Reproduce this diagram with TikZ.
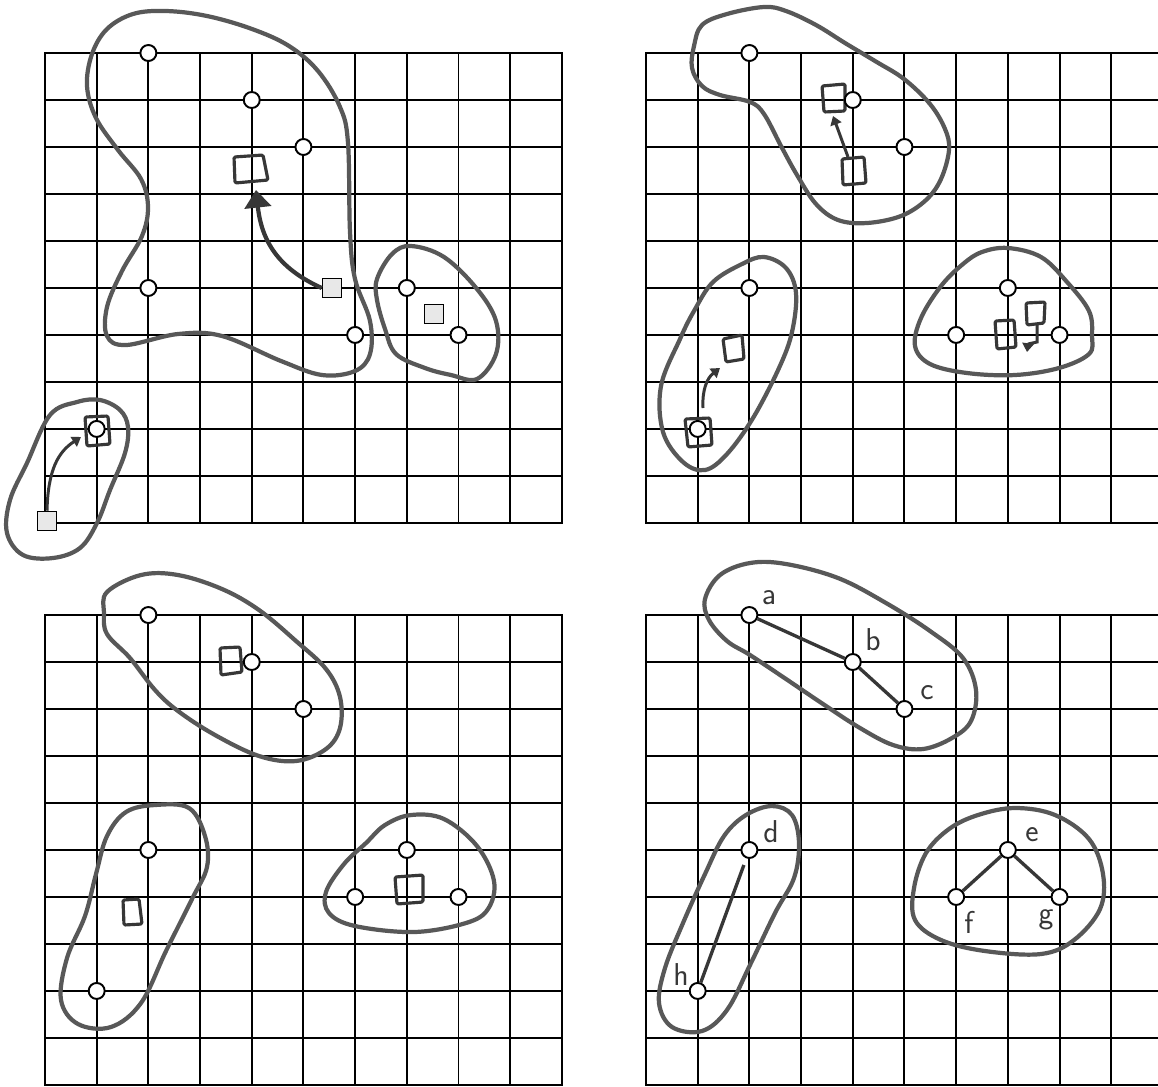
\documentclass[tikz,border=0pt]{standalone}
\usetikzlibrary{arrows.meta}
\definecolor{blobc}{RGB}{88,88,88}
\definecolor{handc}{RGB}{55,55,55}
\definecolor{sqfill}{RGB}{232,232,232}
\newcommand\mygrid{\foreach \k in {0,...,10}{\draw[gridline] (\k,0) -- (\k,10); \draw[gridline] (0,\k) -- (10,\k);}}
\begin{document}
\begin{tikzpicture}[x=0.02cm,y=-0.02cm,
  gridline/.style={line width=1.1pt, black, line cap=rect},
  blob/.style={draw=blobc, line width=2.4pt},
  vtx/.style={circle, draw=black, fill=white, line width=1.1pt, minimum size=0.32cm, inner sep=0pt},
  gsq/.style={rectangle, draw=black, fill=sqfill, line width=0.9pt, minimum size=0.38cm, inner sep=0pt},
  handsq/.style={draw=handc, line width=1.8pt, rounded corners=0.8pt, line join=round},
  harrow/.style={draw=handc, line width=1.7pt, -{Triangle[length=5pt,width=6.5pt]}},
  bigarrow/.style={draw=handc, line width=2.4pt, -{Triangle[length=10pt,width=15pt]}},
  gedge/.style={draw=handc, line width=1.9pt},
  lbl/.style={font=\sffamily\fontsize{18}{18}\selectfont, inner sep=0pt, text=handc}
]
\useasboundingbox (0,0) rectangle (1158,1086);
\clip (0,0) rectangle (1158,1086);
\fill[white] (0,0) rectangle (1158,1086);

% ---------- grids ----------
\begin{scope}[shift={(45,53)}, x=1.034cm, y=-0.94cm] \mygrid \end{scope}
\begin{scope}[shift={(646,53)}, x=1.034cm, y=-0.94cm] \mygrid \end{scope}
\begin{scope}[shift={(45,615)}, x=1.034cm, y=-0.94cm] \mygrid \end{scope}
\begin{scope}[shift={(646,615)}, x=1.034cm, y=-0.94cm] \mygrid \end{scope}

% ---------- blobs: top-left panel ----------
\draw[blob] plot[smooth cycle, tension=0.6] coordinates {
 (107,336) (126,345) (178,334) (222,336) (281,361) (322,375) (355,371) (370,354) (370,321)
 (355,279) (350,232) (348,143) (340,107) (318,71) (289,46) (252,29) (207,16) (166,11)
 (133,14) (107,29) (92,54) (87,86) (96,118) (118,150) (141,179) (148,207) (142,236)
 (122,271) (107,307)};
\draw[blob] plot[smooth cycle, tension=0.6] coordinates {
 (377,279) (392,254) (411,246) (444,257) (477,289) (496,321) (496,354) (477,379)
 (451,375) (425,368) (396,354) (385,329) (377,300)};
\draw[blob] plot[smooth cycle, tension=0.6] coordinates {
 (50,415) (77,402) (100,400) (120,410) (128,427) (125,453) (110,490) (97,523)
 (80,548) (53,558) (23,555) (7,533) (10,500) (27,463)};

% ---------- blobs: top-right panel ----------
\draw[blob] plot[smooth cycle, tension=0.6] coordinates {
 (694,46) (702,25) (727,14) (764,7) (786,11) (816,25) (845,43) (875,61) (904,79)
 (930,104) (945,129) (949,150) (941,179) (926,200) (901,216) (867,223) (838,220)
 (816,204) (797,175) (781,146) (764,114) (750,102) (720,95) (702,86) (692,68)};
\draw[blob] plot[smooth cycle, tension=0.6] coordinates {
 (742,264) (764,257) (786,268) (796,293) (792,332) (779,368) (753,418) (727,454)
 (705,470) (683,462) (663,432) (661,386) (680,339) (694,311) (713,282)};
\draw[blob] plot[smooth cycle, tension=0.6] coordinates {
 (982,252) (1008,248) (1041,257) (1067,282) (1089,311) (1092,336) (1089,354)
 (1059,368) (1015,375) (967,373) (930,364) (915,346) (921,318) (941,286) (963,264)};

% ---------- blobs: bottom-left panel ----------
\draw[blob] plot[smooth cycle, tension=0.6] coordinates {
 (107,592) (141,575) (178,575) (222,589) (259,610) (296,641) (326,669) (340,697)
 (340,728) (326,749) (296,761) (259,756) (215,735) (178,711) (155,690) (130,658)
 (107,634) (104,613)};
\draw[blob] plot[smooth cycle, tension=0.6] coordinates {
 (126,812) (155,805) (189,808) (205,836) (207,867) (192,899) (166,951) (141,1003)
 (111,1027) (78,1024) (61,1000) (67,958) (85,916) (96,874) (107,836)};
\draw[blob] plot[smooth cycle, tension=0.6] coordinates {
 (385,825) (411,815) (444,819) (477,846) (494,881) (488,909) (466,923) (414,932)
 (355,926) (329,913) (326,892) (344,864) (366,843)};

% ---------- blobs: bottom-right panel ----------
\draw[blob] plot[smooth cycle, tension=0.6] coordinates {
 (705,599) (720,575) (750,563) (786,564) (838,578) (886,603) (930,631) (963,658)
 (976,690) (971,721) (952,738) (923,749) (893,745) (860,728) (823,704) (786,679)
 (750,655) (727,641) (709,620)};
\draw[blob] plot[smooth cycle, tension=0.6] coordinates {
 (746,815) (772,806) (792,815) (799,843) (794,878) (775,913) (750,965) (727,1010)
 (702,1031) (672,1027) (659,1003) (665,968) (683,923) (705,874) (724,836)};
\draw[blob] plot[smooth cycle, tension=0.6] coordinates {
 (949,829) (978,815) (1015,808) (1055,815) (1089,839) (1103,874) (1100,909)
 (1074,940) (1041,954) (985,951) (941,940) (915,920) (914,888) (926,853)};

% ---------- top-left panel contents ----------
\draw[handsq] (234,157) -- (263,155) -- (268,180) -- (235,183) -- cycle;
\draw[handsq] (85,417) -- (108,416) -- (110,444) -- (87,446) -- cycle;
\node[gsq] (g1) at (332,288) {};
\node[gsq] (g2) at (434,314) {};
\node[gsq] (g3) at (47,521) {};
\coordinate (t1) at (256,190);
\coordinate (t2) at (81,437);
\draw[bigarrow] (g1.west) .. controls (282,270) and (262,245) .. (t1);
\draw[harrow] (g3.north) .. controls (48,470) and (58,452) .. (t2);
\begin{scope}[shift={(45,53)}, x=1.034cm, y=-0.94cm]
 \node[vtx] (p1a) at (2,0) {};
 \node[vtx] (p1b) at (4,1) {};
 \node[vtx] (p1c) at (5,2) {};
 \node[vtx] (p1d) at (2,5) {};
 \node[vtx] (p1h) at (1,8) {};
 \node[vtx] (p1e) at (7,5) {};
 \node[vtx] (p1f) at (6,6) {};
 \node[vtx] (p1g) at (8,6) {};
\end{scope}

% ---------- top-right panel contents ----------
\draw[handsq] (822,86) -- (845,84) -- (845,111) -- (824,112) -- cycle;
\draw[handsq] (842,159) -- (864,157) -- (866,183) -- (843,185) -- cycle;
\draw[handsq] (685,419) -- (710,418) -- (712,445) -- (688,447) -- cycle;
\draw[handsq] (723,339) -- (742,335) -- (744,359) -- (726,362) -- cycle;
\draw[handsq] (995,321) -- (1014,320) -- (1016,347) -- (997,349) -- cycle;
\draw[handsq] (1026,303) -- (1045,302) -- (1044,323) -- (1027,325) -- cycle;
\coordinate (s2a) at (848,157);
\coordinate (t3) at (833,116);
\coordinate (s2b) at (703,408);
\coordinate (t4) at (720,368);
\coordinate (s2c) at (1037,324);
\coordinate (t5) at (1027,352);
\draw[harrow] (s2a) -- (t3);
\draw[harrow] (s2b) .. controls (702,390) and (707,378) .. (t4);
\draw[harrow] (s2c) -- (1037,342) -- (1028,344) -- (t5);
\begin{scope}[shift={(646,53)}, x=1.034cm, y=-0.94cm]
 \node[vtx] (p2a) at (2,0) {};
 \node[vtx] (p2b) at (4,1) {};
 \node[vtx] (p2c) at (5,2) {};
 \node[vtx] (p2d) at (2,5) {};
 \node[vtx] (p2h) at (1,8) {};
 \node[vtx] (p2e) at (7,5) {};
 \node[vtx] (p2f) at (6,6) {};
 \node[vtx] (p2g) at (8,6) {};
\end{scope}

% ---------- bottom-left panel contents ----------
\draw[handsq] (220,648) -- (240,647) -- (242,672) -- (221,675) -- cycle;
\draw[handsq] (123,900) -- (139,899) -- (142,924) -- (124,925) -- cycle;
\draw[handsq] (395,877) -- (423,875) -- (423,902) -- (397,904) -- cycle;
\begin{scope}[shift={(45,615)}, x=1.034cm, y=-0.94cm]
 \node[vtx] (p3a) at (2,0) {};
 \node[vtx] (p3b) at (4,1) {};
 \node[vtx] (p3c) at (5,2) {};
 \node[vtx] (p3d) at (2,5) {};
 \node[vtx] (p3h) at (1,8) {};
 \node[vtx] (p3e) at (7,5) {};
 \node[vtx] (p3f) at (6,6) {};
 \node[vtx] (p3g) at (8,6) {};
\end{scope}

% ---------- bottom-right panel contents ----------
\begin{scope}[shift={(646,615)}, x=1.034cm, y=-0.94cm]
 \node[vtx] (a) at (2,0) {};
 \node[vtx] (b) at (4,1) {};
 \node[vtx] (c) at (5,2) {};
 \node[vtx] (d) at (2,5) {};
 \node[vtx] (h) at (1,8) {};
 \node[vtx] (e) at (7,5) {};
 \node[vtx] (f) at (6,6) {};
 \node[vtx] (g) at (8,6) {};
\end{scope}
\draw[gedge] (a) -- (b);
\draw[gedge] (b) -- (c);
\draw[gedge, shorten <=4pt] (d) -- (h);
\draw[gedge] (e) -- (f);
\draw[gedge] (e) -- (g);
\node[lbl] (la) at (769,598) {a};
\node[lbl] (lb) at (873,640) {b};
\node[lbl] (lc) at (927,693) {c};
\node[lbl] (ld) at (771,832) {d};
\node[lbl] (le) at (1032,835) {e};
\node[lbl] (lf) at (969,922) {f};
\node[lbl] (lg) at (1046,920) {g};
\node[lbl] (lh) at (681,975) {h};
\end{tikzpicture}
\end{document}
